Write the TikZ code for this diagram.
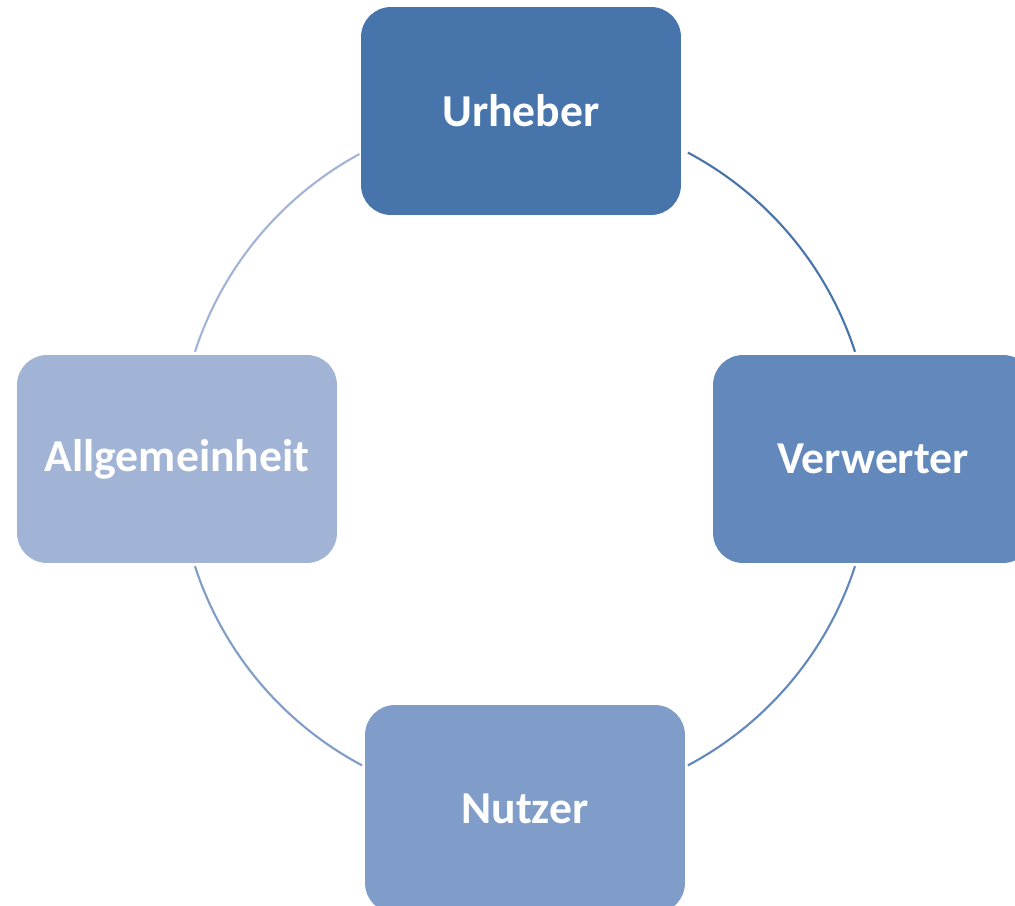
\documentclass[tikz,border=0pt]{standalone}
\usepackage{fontspec}
\setmainfont{Carlito}
\usepackage{tikz}
\usetikzlibrary{positioning}

\definecolor{urheber_col}{HTML}{4674AB}
\definecolor{verwerter_col}{HTML}{6389BC}
\definecolor{nutzer_col}{HTML}{7F9DC8}
\definecolor{allg_col}{HTML}{A2B4D6}

\begin{document}
\begin{tikzpicture}[
    x=0.02cm, y=0.02cm,
    font=\bfseries\fontsize{26}{31}\selectfont,
    role_block/.style={rounded corners=0.6cm, minimum width=6.4cm, minimum height=4.16cm, text=white, align=center, inner sep=0pt},
    ring_arc/.style={line width=1.2pt}
]

% --- Frame ---
\clip (-525, 459) rectangle (490, -447);
\fill[white] (-525, 459) rectangle (490, -447);

% --- Ring (drawn first, boxes sit on top) ---
\draw[ring_arc, urheber_col] (18:347) arc[start angle=18, end angle=62, radius=347];
\draw[ring_arc, allg_col] (118.5:347) arc[start angle=118.5, end angle=162, radius=347];
\draw[ring_arc, nutzer_col] (198:347) arc[start angle=198, end angle=242, radius=347];
\draw[ring_arc, verwerter_col] (-62:347) arc[start angle=-62, end angle=-18, radius=347];

% --- Roles ---
\node[role_block, fill=urheber_col] (urheber) at (-4, 348) {Urheber};
\node[role_block, fill=verwerter_col] (verwerter) at (348, 0) {Verwerter};
\node[role_block, fill=nutzer_col] (nutzer) at (0, -350) {Nutzer};
\node[role_block, fill=allg_col] (allgemeinheit) at (-348, 0) {Allgemeinheit};

\end{tikzpicture}
\end{document}
